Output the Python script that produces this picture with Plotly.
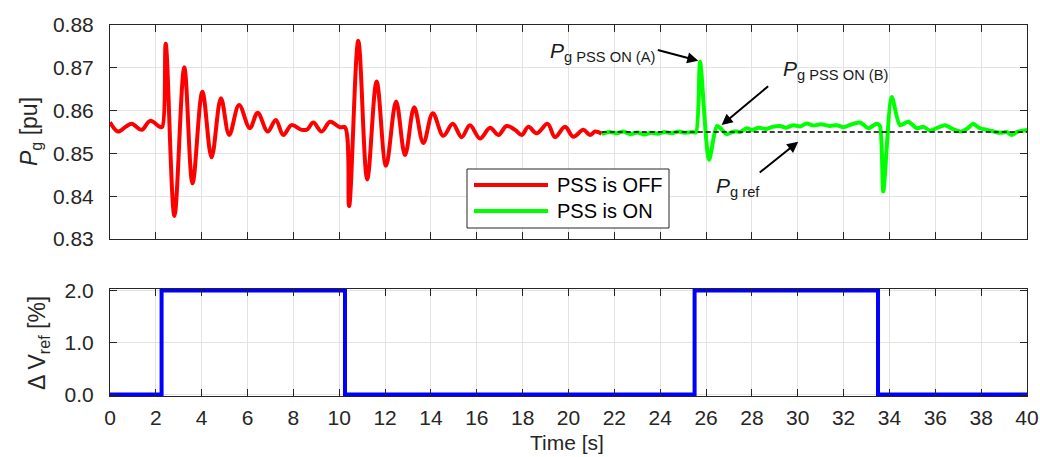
import plotly.graph_objects as go

# ---------------- data ----------------
t_off = [0, 0.35, 0.7, 0.95, 1.38, 1.75, 2.18, 2.28, 2.43, 2.81, 3.24, 3.6, 4.03, 4.43,
         4.84, 5.2, 5.63, 6.1, 6.44, 6.88, 7.23, 7.56, 7.92, 8.36, 8.6, 8.87, 9.23, 9.6,
         10.03, 10.25, 10.43, 10.83, 11.22, 11.63, 12.04, 12.48, 12.87, 13.27, 13.67,
         14.08, 14.54, 14.95, 15.34, 15.7, 16.14, 16.58, 16.94, 17.3, 17.67, 17.96,
         18.25, 18.61, 19.09, 19.41, 19.85, 20.21, 20.65, 20.94, 21.16, 21.45]
p_off = [0.8573, 0.8551, 0.8563, 0.8569, 0.8555, 0.8576, 0.8562, 0.8562, 0.8756, 0.8354,
         0.8701, 0.8430, 0.8644, 0.8491, 0.8629, 0.8543, 0.8613, 0.8559, 0.8595, 0.8551,
         0.8578, 0.8543, 0.8566, 0.8555, 0.8556, 0.8572, 0.8551, 0.8574, 0.8561, 0.8561,
         0.8377, 0.8763, 0.8439, 0.8668, 0.8471, 0.8621, 0.8496, 0.8608, 0.8524, 0.8594,
         0.8541, 0.8569, 0.8538, 0.8566, 0.8535, 0.8560, 0.8543, 0.8564, 0.8555, 0.8543,
         0.8562, 0.8547, 0.8569, 0.8538, 0.8562, 0.8539, 0.8555, 0.8543, 0.8551, 0.8546]

t_on = [21.45, 21.8, 22.1, 22.4, 22.7, 23.0, 23.3, 23.6, 23.9, 24.2, 24.5, 24.8, 25.1,
        25.4, 25.56, 25.74, 26.13, 26.49, 26.9, 27.1, 27.3, 27.5, 27.77, 28.0, 28.3,
        28.6, 28.9, 29.23, 29.5, 29.8, 30.1, 30.39, 30.7, 31.0, 31.4, 31.7, 32.0, 32.3,
        32.72, 33.08, 33.44, 33.58, 33.73, 34.1, 34.46, 34.82, 35.19, 35.5, 35.77, 36.1,
        36.42, 36.8, 37.15, 37.4, 37.66, 37.9, 38.24, 38.5, 38.82, 39.1, 39.33, 39.6, 40.0]
p_on = [0.8546, 0.8550, 0.8547, 0.8551, 0.8545, 0.8549, 0.8544, 0.8548, 0.8546, 0.8550,
        0.8547, 0.8551, 0.8548, 0.8550, 0.8549, 0.8714, 0.8485, 0.8564, 0.8545, 0.8549,
        0.8552, 0.8550, 0.8559, 0.8555, 0.8560, 0.8557, 0.8562, 0.8564, 0.8560, 0.8566,
        0.8563, 0.8570, 0.8565, 0.8568, 0.8564, 0.8566, 0.8561, 0.8567, 0.8572, 0.8559,
        0.8569, 0.8565, 0.8411, 0.8632, 0.8566, 0.8574, 0.8559, 0.8562, 0.8553, 0.8560,
        0.8566, 0.8556, 0.8551, 0.8558, 0.8569, 0.8560, 0.8555, 0.8552, 0.8548, 0.8550,
        0.8543, 0.8551, 0.8555]

t_ref = [21.45, 40.0]
p_ref = [0.855, 0.855]

t_step = [0, 2.25, 10.25, 25.5, 33.5, 40]
dv_step = [0, 2, 0, 2, 0, 0]

x_ticks = list(range(0, 41, 2))
y_ticks_top = [0.83, 0.84, 0.85, 0.86, 0.87, 0.88]
y_ticks_bot = [0.0, 1.0, 2.0]

# ---------------- figure ----------------
AX = "#262626"
GRID = "#e3e3e3"
FONT = "Liberation Sans, Arial, sans-serif"

fig = go.Figure()
fig.add_trace(go.Scatter(x=t_off, y=p_off, mode="lines", name="PSS is OFF",
                         line=dict(color="#ff0000", width=4, shape="spline", smoothing=1.0),
                         xaxis="x", yaxis="y", showlegend=False))
fig.add_trace(go.Scatter(x=t_on, y=p_on, mode="lines", name="PSS is ON",
                         line=dict(color="#00ff00", width=4, shape="spline", smoothing=0.7),
                         xaxis="x", yaxis="y", showlegend=False))
fig.add_trace(go.Scatter(x=t_ref, y=p_ref, mode="lines", name="Pg ref",
                         line=dict(color="#000000", width=1.5, dash="5px,3px"),
                         xaxis="x", yaxis="y", showlegend=False))
fig.add_trace(go.Scatter(x=t_step, y=dv_step, mode="lines", name="dVref",
                         line=dict(color="#0000ff", width=4, shape="hv"),
                         xaxis="x2", yaxis="y2", showlegend=False))

ax_common = dict(showline=True, linecolor=AX, linewidth=1, mirror="ticks",
                 ticks="inside", ticklen=7, tickcolor=AX, tickwidth=1,
                 showgrid=True, gridcolor=GRID, gridwidth=1, zeroline=False,
                 automargin=False,
                 tickfont=dict(family=FONT, size=21, color=AX))

fig.update_layout(
    width=1040, height=457,
    margin=dict(l=110, r=13, t=25, b=61, autoexpand=False),
    paper_bgcolor="white", plot_bgcolor="white",
    font=dict(family=FONT, color=AX),
    xaxis=dict(domain=[0, 1], range=[0, 40], tickvals=x_ticks, showticklabels=False,
               anchor="y", **ax_common),
    yaxis=dict(domain=[0.4232, 1], range=[0.83, 0.88], tickvals=y_ticks_top,
               tickformat=".2f", anchor="x", ticklabelstandoff=11, **ax_common),
    xaxis2=dict(domain=[0, 1], range=[0, 40], tickvals=x_ticks, anchor="y2",
                ticklabelstandoff=3, **ax_common),
    yaxis2=dict(domain=[0, 0.2884], range=[-0.03, 2.03], tickvals=y_ticks_bot,
                tickformat=".1f", anchor="x2", ticklabelstandoff=11, **ax_common),
)

def px2paper(px, py):
    return (px - 110) / 917.0, (396 - py) / 371.0

ann = []
# axis titles
ann.append(dict(text="<i>P</i><sub>g</sub> [pu]", xref="paper", yref="paper",
                x=px2paper(30, 132)[0], y=px2paper(30, 132)[1], showarrow=False,
                textangle=-90, font=dict(family=FONT, size=23, color=AX),
                xanchor="center", yanchor="middle"))
ann.append(dict(text="\u0394 V<sub>ref</sub> [%]", xref="paper", yref="paper",
                x=px2paper(38, 343)[0], y=px2paper(38, 343)[1], showarrow=False,
                textangle=-90, font=dict(family=FONT, size=23, color=AX),
                xanchor="center", yanchor="middle"))
ann.append(dict(text="Time [s]", xref="paper", yref="paper",
                x=px2paper(567, 442)[0], y=px2paper(567, 442)[1], showarrow=False,
                font=dict(family=FONT, size=21, color=AX),
                xanchor="center", yanchor="middle"))

# labelled arrows
arr = dict(showarrow=True, arrowhead=2, arrowsize=1.1, arrowwidth=2, arrowcolor="#000000",
           text="", xref="x", yref="y")
ann.append(dict(x=25.66, y=0.87166, ax=-42, ay=-11, **arr))
ann.append(dict(x=26.68, y=0.85664, ax=48, ay=-40, **arr))
ann.append(dict(x=30.02, y=0.85273, ax=-40, ay=32, **arr))

lab = dict(showarrow=False, xref="x", yref="y", xanchor="left", yanchor="middle",
           font=dict(family=FONT, size=21, color="#1a1a1a"))
ann.append(dict(text="<i>P</i><sub>g PSS ON (A)</sub>", x=19.1, y=0.8737, **lab))
ann.append(dict(text="<i>P</i><sub>g PSS ON (B)</sub>", x=29.25, y=0.8695, **lab))
ann.append(dict(text="<i>P</i><sub>g ref</sub>", x=26.35, y=0.8422, **lab))

# legend (drawn manually to match the long line samples)
lx0, ly0 = px2paper(467, 169)
lx1, ly1 = px2paper(669, 228)
shapes = [dict(type="rect", xref="paper", yref="paper", x0=lx0, y0=ly1, x1=lx1, y1=ly0,
               line=dict(color=AX, width=1), fillcolor="white", layer="above")]
for (name, col, py) in [("PSS is OFF", "#ff0000", 185), ("PSS is ON", "#00ff00", 211)]:
    a0 = px2paper(474, py)
    a1 = px2paper(548, py)
    shapes.append(dict(type="line", xref="paper", yref="paper", x0=a0[0], y0=a0[1],
                       x1=a1[0], y1=a1[1], line=dict(color=col, width=4), layer="above"))
    tp = px2paper(555, py)
    ann.append(dict(text=name, xref="paper", yref="paper", x=tp[0], y=tp[1],
                    showarrow=False, xanchor="left", yanchor="middle",
                    font=dict(family=FONT, size=20, color="#000000")))

fig.update_layout(annotations=ann, shapes=shapes)
# remove the default 8px page margin so the figure fills the window exactly
fig.write_html("out.html", config={"displayModeBar": False},
               post_script="document.body.style.margin='0';document.body.style.overflow='hidden';")
